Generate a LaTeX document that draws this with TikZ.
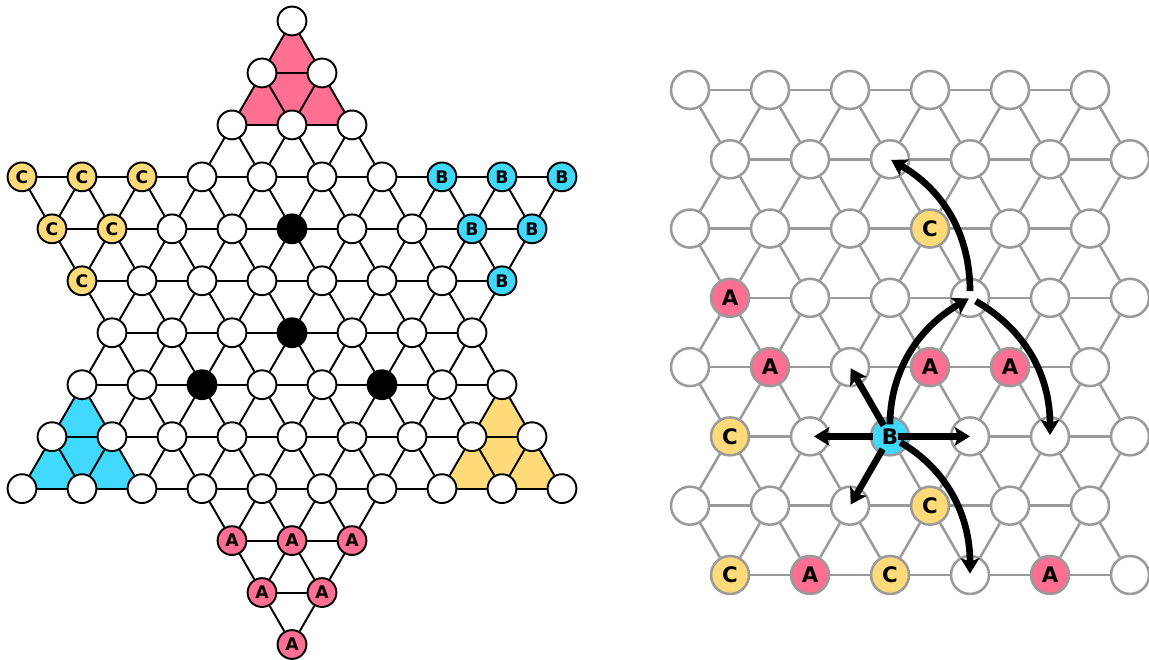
\documentclass[tikz,border=0pt]{standalone}
\usepackage{fontspec}
\newfontfamily\lblfont{DejaVu Sans}
\usetikzlibrary{arrows.meta,backgrounds}

\definecolor{pinkA}{HTML}{FF6F91}
\definecolor{blueB}{HTML}{40D8FC}
\definecolor{yellowC}{HTML}{FFDA78}
\definecolor{gridgray}{HTML}{9A9A9A}

% o = empty hole, X = black marble, A/B/C = lettered pieces
\newcommand\lbl[1]{\if#1o\else\if#1X\else#1\fi\fi}

\begin{document}
\begin{tikzpicture}[x=0.75pt,y=0.75pt]
\tikzset{hole/.style={circle,draw,line width=1.45pt,minimum size=21.6pt,inner sep=0pt,fill=white,text=black,
    font={\lblfont\bfseries\fontsize{13}{14}\selectfont}},
  lco/.style={}, lcX/.style={fill=black}, lcA/.style={fill=pinkA}, lcB/.style={fill=blueB}, lcC/.style={fill=yellowC},
  spot/.style={circle,draw=gridgray,line width=1.9pt,minimum size=28.5pt,inner sep=0pt,fill=white,text=black,
    font={\lblfont\bfseries\fontsize{16}{18}\selectfont}},
  rco/.style={}, rcA/.style={fill=pinkA}, rcB/.style={fill=blueB}, rcC/.style={fill=yellowC},
  link/.style={line width=1.45pt},
  glink/.style={gridgray,line width=1.9pt},
  jump/.style={line width=5pt,-{Stealth[length=11.5pt,width=14pt,inset=2.5pt]}}}

\useasboundingbox (0,0) rectangle (1149,660);

% star board
\foreach \r/\ka/\cells in {0/9/{o},1/8/{o,o},2/7/{o,o,o},3/0/{C,C,C,o,o,o,o,B,B,B},
    4/1/{C,C,o,o,X,o,o,B,B},5/2/{C,o,o,o,o,o,o,B},6/3/{o,o,o,X,o,o,o},7/2/{o,o,X,o,o,X,o,o},
    8/1/{o,o,o,o,o,o,o,o,o},9/0/{o,o,o,o,o,o,o,o,o,o},10/7/{A,A,A},11/8/{A,A},12/9/{A}}{
  \foreach \pc [count=\i] in \cells {
    \pgfmathtruncatemacro\k{\ka+2*(\i-1)}
    \node[hole,lc\pc] (L-\r-\k) at ({22+30*\k},{639-51.96*\r}) {\lbl{\pc}};
    \ifnum\i>1 \pgfmathtruncatemacro\kl{\k-2}\draw[link] (L-\r-\kl) -- (L-\r-\k);\fi
    \pgfmathtruncatemacro\ru{\r-1}
    \foreach \d in {-1,1}{
      \pgfmathtruncatemacro\kk{\k+\d}
      \pgfmathtruncatemacro\ok{((\ru<=9)&&(abs(\kk-9)<=(\ru)))||((\ru>=3)&&(abs(\kk-9)<=(12-\ru)))}
      \ifnum\ok=1 \draw[link] (L-\ru-\kk) -- (L-\r-\k);\fi
    }
  }
}

\begin{pgfonlayer}{background}
  \fill[pinkA] (L-0-9.center) -- (L-2-7.center) -- (L-2-11.center) -- cycle;
  \fill[blueB] (L-7-2.center) -- (L-9-0.center) -- (L-9-4.center) -- cycle;
  \fill[yellowC] (L-7-16.center) -- (L-9-14.center) -- (L-9-18.center) -- cycle;
\end{pgfonlayer}

% close-up of the grid
\foreach \r/\cells in {0/{o,o,o,o,o,o},1/{o,o,o,o,o,o},2/{o,o,o,C,o,o},3/{A,o,o,o,o,o},
    4/{o,A,o,A,A,o},5/{C,o,B,o,o,o},6/{o,o,o,C,o,o},7/{C,A,C,o,A,o}}{
  \pgfmathtruncatemacro\ka{mod(\r,2)}
  \pgfmathtruncatemacro\ru{\r-1}
  \pgfmathtruncatemacro\ku{mod(\r+1,2)}
  \foreach \pc [count=\i] in \cells {
    \pgfmathtruncatemacro\k{\ka+2*(\i-1)}
    \node[spot,rc\pc] (R-\r-\k) at ({690+40*\k},{570-69.28*\r}) {\lbl{\pc}};
    \ifnum\i>1 \pgfmathtruncatemacro\kl{\k-2}\draw[glink] (R-\r-\kl) -- (R-\r-\k);\fi
    \ifnum\r>0
      \foreach \d in {-1,1}{
        \pgfmathtruncatemacro\kk{\k+\d}
        \pgfmathtruncatemacro\ok{(\kk>=\ku)&&(\kk<=10+\ku)}
        \ifnum\ok=1 \draw[glink] (R-\ru-\kk) -- (R-\r-\k);\fi
      }
    \fi
  }
}

% moves of B
\draw[jump,shorten <=12.5pt,shorten >=3pt] (R-5-5.center) -- (R-5-3.center);
\draw[jump,shorten <=6pt,shorten >=0pt] (R-5-5.center) -- (R-5-7.center);
\draw[jump,shorten <=9.5pt,shorten >=1pt] (R-5-5.center) -- (R-4-4.center);
\draw[jump,shorten <=11pt,shorten >=1pt] (R-5-5.center) -- (R-6-4.center);
\draw[jump,shorten <=9pt,shorten >=1pt] (R-5-5.center) to[bend left=30] (R-3-7.center);
\draw[jump,shorten <=5pt,shorten >=1pt] (R-3-7.center) to[bend right=30] (R-1-5.center);
\draw[jump,shorten <=5pt,shorten >=1pt] (R-3-7.center) to[bend left=30] (R-5-9.center);
\draw[jump,shorten <=9pt,shorten >=1pt] (R-5-5.center) to[bend left=30] (R-7-7.center);
\end{tikzpicture}
\end{document}
